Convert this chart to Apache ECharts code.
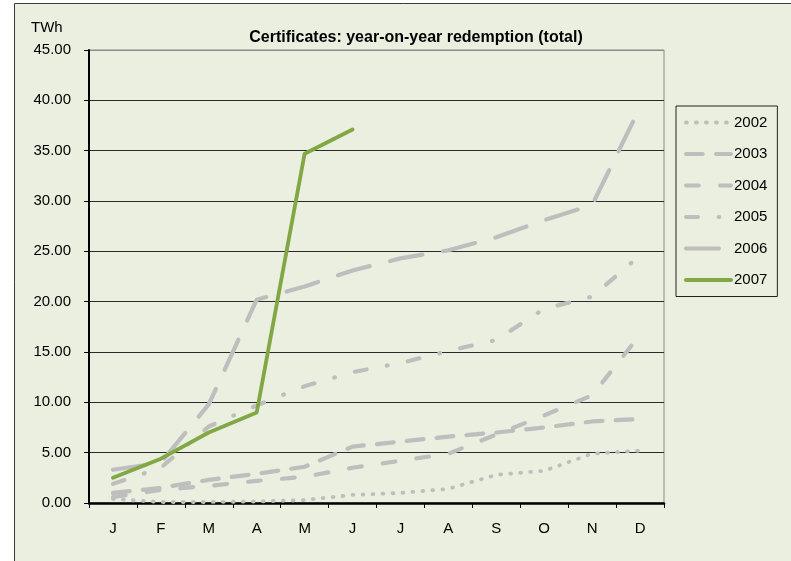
<!DOCTYPE html>
<html>
<head>
<meta charset="utf-8">
<script src="https://cdn.jsdelivr.net/npm/echarts@6/dist/echarts.min.js"></script>
<style>
html,body{margin:0;padding:0;background:#fff;}
#c{width:791px;height:561px;}
</style>
</head>
<body>
<div id="c"></div>
<script>
var months = ['J','F','M','A','M','J','J','A','S','O','N','D'];
var years = ['2002','2003','2004','2005','2006','2007'];
var yTicks = [0,5,10,15,20,25,30,35,40,45];
var s2002 = [0.4,0.1,0.1,0.15,0.3,0.8,1.0,1.4,2.8,3.2,4.9,5.2];
var s2003 = [1.0,1.5,2.3,2.9,3.6,5.6,6.1,6.6,7.0,7.5,8.1,8.35];
var s2004 = [0.6,1.3,1.7,2.2,2.6,3.5,4.2,4.9,6.8,8.7,10.7,16.7];
var s2005 = [1.9,3.5,7.6,9.7,11.6,13.0,13.9,15.1,16.2,19.3,20.5,24.6];
var s2006 = [3.3,4.0,9.8,20.2,21.5,23.1,24.3,25.1,26.4,28.1,29.6,39.3];
var s2007 = [2.5,4.4,7.0,9.0,34.7,37.1];

var FONT = '"Liberation Sans", Arial, sans-serif';
var BG = '#EBEFDF';
var GRAY = '#BEBEBE';

function mk(name, data, color, type, width) {
  return {
    name: name, type: 'line', data: data, symbol: 'none', showSymbol: false,
    lineStyle: {color: color, width: width, type: type, cap: 'round', join: 'round'},
    itemStyle: {color: color},
    emphasis: {disabled: true}, animation: false
  };
}

var chart = echarts.init(document.getElementById('c'), null, {renderer: 'canvas'});
var splitColors = yTicks.map(function(v, i){ return i === yTicks.length - 1 ? '#8c8c8c' : '#2a2a2a'; });
chart.setOption({
  backgroundColor: '#ffffff',
  animation: false,
  textStyle: {fontFamily: FONT},
  graphic: [{
    type: 'rect', z: -10, silent: true,
    shape: {x: 14.5, y: 3.5, width: 800, height: 600},
    style: {fill: BG, stroke: '#3a3a3a', lineWidth: 1}
  }],
  title: [{
    text: 'Certificates: year-on-year redemption (total)',
    left: 411, top: 25, textAlign: 'center',
    textStyle: {fontFamily: FONT, fontSize: 16, fontWeight: 'bold', color: '#000'}
  }, {
    text: 'TWh', left: 26, top: 15,
    textStyle: {fontFamily: FONT, fontSize: 15, fontWeight: 'normal', color: '#000'}
  }],
  legend: {
    orient: 'vertical', left: 676, top: 106, width: 90,
    padding: [9, 10, 9, 8], itemGap: 16.5, itemWidth: 45, itemHeight: 14,
    backgroundColor: BG, borderColor: '#222', borderWidth: 1,
    data: years,
    itemStyle: {opacity: 0},
    lineStyle: {width: 4, cap: 'round'},
    textStyle: {fontFamily: FONT, fontSize: 15, color: '#000', padding: [0,0,0,-2]},
    selectedMode: false
  },
  grid: {left: 89, right: 127, top: 50, bottom: 58, show: true, borderColor: '#8c8c8c', borderWidth: 1, backgroundColor: 'transparent'},
  xAxis: {
    type: 'category', data: months, boundaryGap: true,
    axisLine: {lineStyle: {color: '#000', width: 2.5}},
    axisTick: {show: true, interval: 0, length: 5, lineStyle: {color: '#000', width: 1}},
    axisLabel: {interval: 0, margin: 18, fontSize: 15, color: '#000', fontFamily: FONT},
    splitLine: {show: false}
  },
  yAxis: {
    type: 'value', min: 0, max: 45, interval: 5,
    axisLine: {show: true, lineStyle: {color: '#000', width: 2}},
    axisTick: {show: true, length: 5, lineStyle: {color: '#000', width: 1}},
    axisLabel: {margin: 18, fontSize: 15, color: '#000', fontFamily: FONT,
      formatter: function(v){ return v.toFixed(2); }},
    splitLine: {show: true, lineStyle: {color: splitColors, width: 1.2}}
  },
  series: [
    mk('2002', s2002, GRAY, [0.8, 9.2], 3.8),
    mk('2003', s2003, GRAY, [16.8, 13.2], 4.2),
    mk('2004', s2004, GRAY, [12.8, 21.2], 4.2),
    mk('2005', s2005, GRAY, [12, 20.6, 0.8, 20.6], 4.2),
    mk('2006', s2006, GRAY, [33, 21], 4.2),
    mk('2007', s2007, '#82A745', 'solid', 3.8)
  ]
});
</script>
</body>
</html>
